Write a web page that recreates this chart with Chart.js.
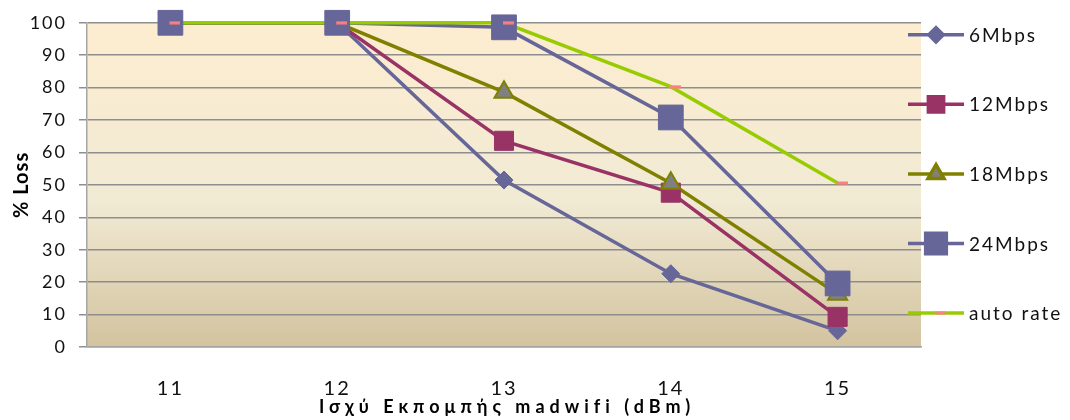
<!DOCTYPE html>
<html>
<head>
<meta charset="utf-8">
<title>% Loss per transmit power</title>
<script src="https://cdn.jsdelivr.net/npm/chart.js@4.4.1/dist/chart.umd.min.js"></script>
<style>
    body { margin: 0; background: #fff; }
    #wrap { width: 1070px; height: 420px; }
</style>
</head>
<body>
<div id="wrap"><canvas id="lossChart" width="1070" height="420"></canvas></div>
<script>
// transmit power (dBm) and measured loss (%) per bitrate
const powerLevels = ["11", "12", "13", "14", "15"];
const loss6 = [100, 100, 51.5, 22.6, 5];
const loss12 = [100, 100, 63.6, 47.6, 9.3];
const loss18 = [100, 100, 78.6, 50.5, 16.3];
const loss24 = [100, 100, 98.6, 70.8, 19.6];
const lossAuto = [100, 100, 100, 80.3, 50.6];
const yTickStep = 10;

const xTitle = "Ισχύ Εκπομπής madwifi (dBm)";
const yTitle = "% Loss";

// small pink dash used as the "auto rate" marker, sitting a bit right of the point
function dashMarker() {
    const c = document.createElement("canvas");
    c.width = 20;
    c.height = 4;
    const g = c.getContext("2d");
    g.fillStyle = "#ff8080";
    g.fillRect(9, 0.5, 11, 3);
    return c;
}

const series = [
    { label: "6Mbps", data: loss6, line: "#666699", fill: "#666699", edge: "#666699", style: "rectRot", radius: 9, legendRadius: 7.2, edgeWidth: 1 },
    { label: "12Mbps", data: loss12, line: "#993366", fill: "#993366", edge: "#993366", style: "rect", radius: 13.5, legendRadius: 10.8, edgeWidth: 1 },
    { label: "18Mbps", data: loss18, line: "#808000", fill: "#808080", edge: "#808000", style: "triangle", radius: 11, legendRadius: 9.2, edgeWidth: 2 },
    { label: "24Mbps", data: loss24, line: "#666699", fill: "#666699", edge: "#666699", style: "rect", radius: 17.5, legendRadius: 14.6, edgeWidth: 1 },
    { label: "auto rate", data: lossAuto, line: "#99cc00", fill: "#ff8080", edge: "#ff8080", style: dashMarker(), radius: 6, legendRadius: 6, edgeWidth: 0 },
];

// lines go underneath every marker, later series sit on top
const datasets = [];
series.forEach((s, i) => {
    datasets.push({
        label: s.label + " line",
        data: s.data,
        borderColor: s.line,
        borderWidth: 3.5,
        pointRadius: 0,
        pointHoverRadius: 0,
        tension: 0,
        clip: false,
        order: 20 - i,
    });
    datasets.push({
        label: s.label,
        data: s.data,
        showLine: false,
        pointStyle: s.style,
        pointRadius: s.radius,
        pointHoverRadius: s.radius,
        pointBackgroundColor: s.fill,
        pointBorderColor: s.edge,
        pointBorderWidth: s.edgeWidth,
        clip: false,
        order: 10 - i,
    });
});

const plotBackground = {
    id: "plotBackground",
    beforeDraw(chart) {
        const { ctx, chartArea: a } = chart;
        const grad = ctx.createLinearGradient(0, a.top, 0, a.bottom);
        grad.addColorStop(0, "#fdedd0");
        grad.addColorStop(0.55, "#f1ead4");
        grad.addColorStop(1, "#d3c39f");
        ctx.save();
        ctx.fillStyle = grad;
        ctx.fillRect(a.left, a.top, a.right - a.left, a.bottom - a.top);
        ctx.restore();
        ctx.letterSpacing = "2px";
    },
};

const sideLegend = {
    id: "sideLegend",
    afterDraw(chart) {
        const { ctx, chartArea: a } = chart;
        const x0 = a.right - 13;
        const x1 = a.right + 43;
        const mid = (x0 + x1) / 2;
        const step = (a.bottom - a.top) / 4.66;
        ctx.save();
        ctx.font = "19px Lato";
        ctx.letterSpacing = "2px";
        ctx.textAlign = "left";
        ctx.textBaseline = "middle";
        series.forEach((s, i) => {
            const y = a.top + 12 + i * step;
            ctx.strokeStyle = s.line;
            ctx.lineWidth = 3.5;
            ctx.beginPath();
            ctx.moveTo(x0, y);
            ctx.lineTo(x1, y);
            ctx.stroke();
            ctx.fillStyle = s.fill;
            ctx.strokeStyle = s.edge;
            Chart.helpers.drawPoint(ctx, {
                pointStyle: s.style,
                radius: s.legendRadius,
                rotation: 0,
                borderWidth: s.edgeWidth,
            }, mid, y);
            ctx.fillStyle = "#111";
            ctx.fillText(s.label, x1 + 5, y + 1);
        });
        ctx.restore();
    },
};

const axisTitles = {
    id: "axisTitles",
    afterDraw(chart) {
        const { ctx, chartArea: a } = chart;
        ctx.save();
        ctx.fillStyle = "#000";
        ctx.textAlign = "center";
        ctx.textBaseline = "middle";
        ctx.font = "bold 18px Lato";
        ctx.letterSpacing = "5px";
        ctx.fillText(xTitle, (a.left + a.right) / 2 + 3, chart.height - 13);
        ctx.translate(22, (a.top + a.bottom) / 2);
        ctx.rotate(-Math.PI / 2);
        ctx.font = "bold 20px Lato";
        ctx.letterSpacing = "1px";
        ctx.fillText(yTitle, 0, 0);
        ctx.restore();
    },
};

new Chart(document.getElementById("lossChart"), {
    type: "line",
    data: { labels: powerLevels, datasets },
    options: {
        responsive: false,
        animation: false,
        layout: { padding: { top: 22, right: 149, bottom: 0, left: 0 } },
        plugins: {
            legend: { display: false },
            tooltip: { enabled: false },
        },
        scales: {
            x: {
                offset: true,
                grid: { display: false },
                border: { display: true, color: "#a6a6a6", width: 1.5 },
                ticks: { font: { family: "Lato", size: 20 }, color: "#111", padding: 22 },
                afterFit: (scale) => { scale.height = 73; },
            },
            y: {
                min: 0,
                max: 100,
                ticks: { stepSize: yTickStep, font: { family: "Lato", size: 18 }, color: "#111", padding: 12 },
                grid: { color: "#8e8e8e", lineWidth: 1.5, tickLength: 8 },
                border: { color: "#a6a6a6", width: 1.5 },
                afterFit: (scale) => { scale.width = 87; },
            },
        },
    },
    plugins: [plotBackground, sideLegend, axisTitles],
});
</script>
</body>
</html>
